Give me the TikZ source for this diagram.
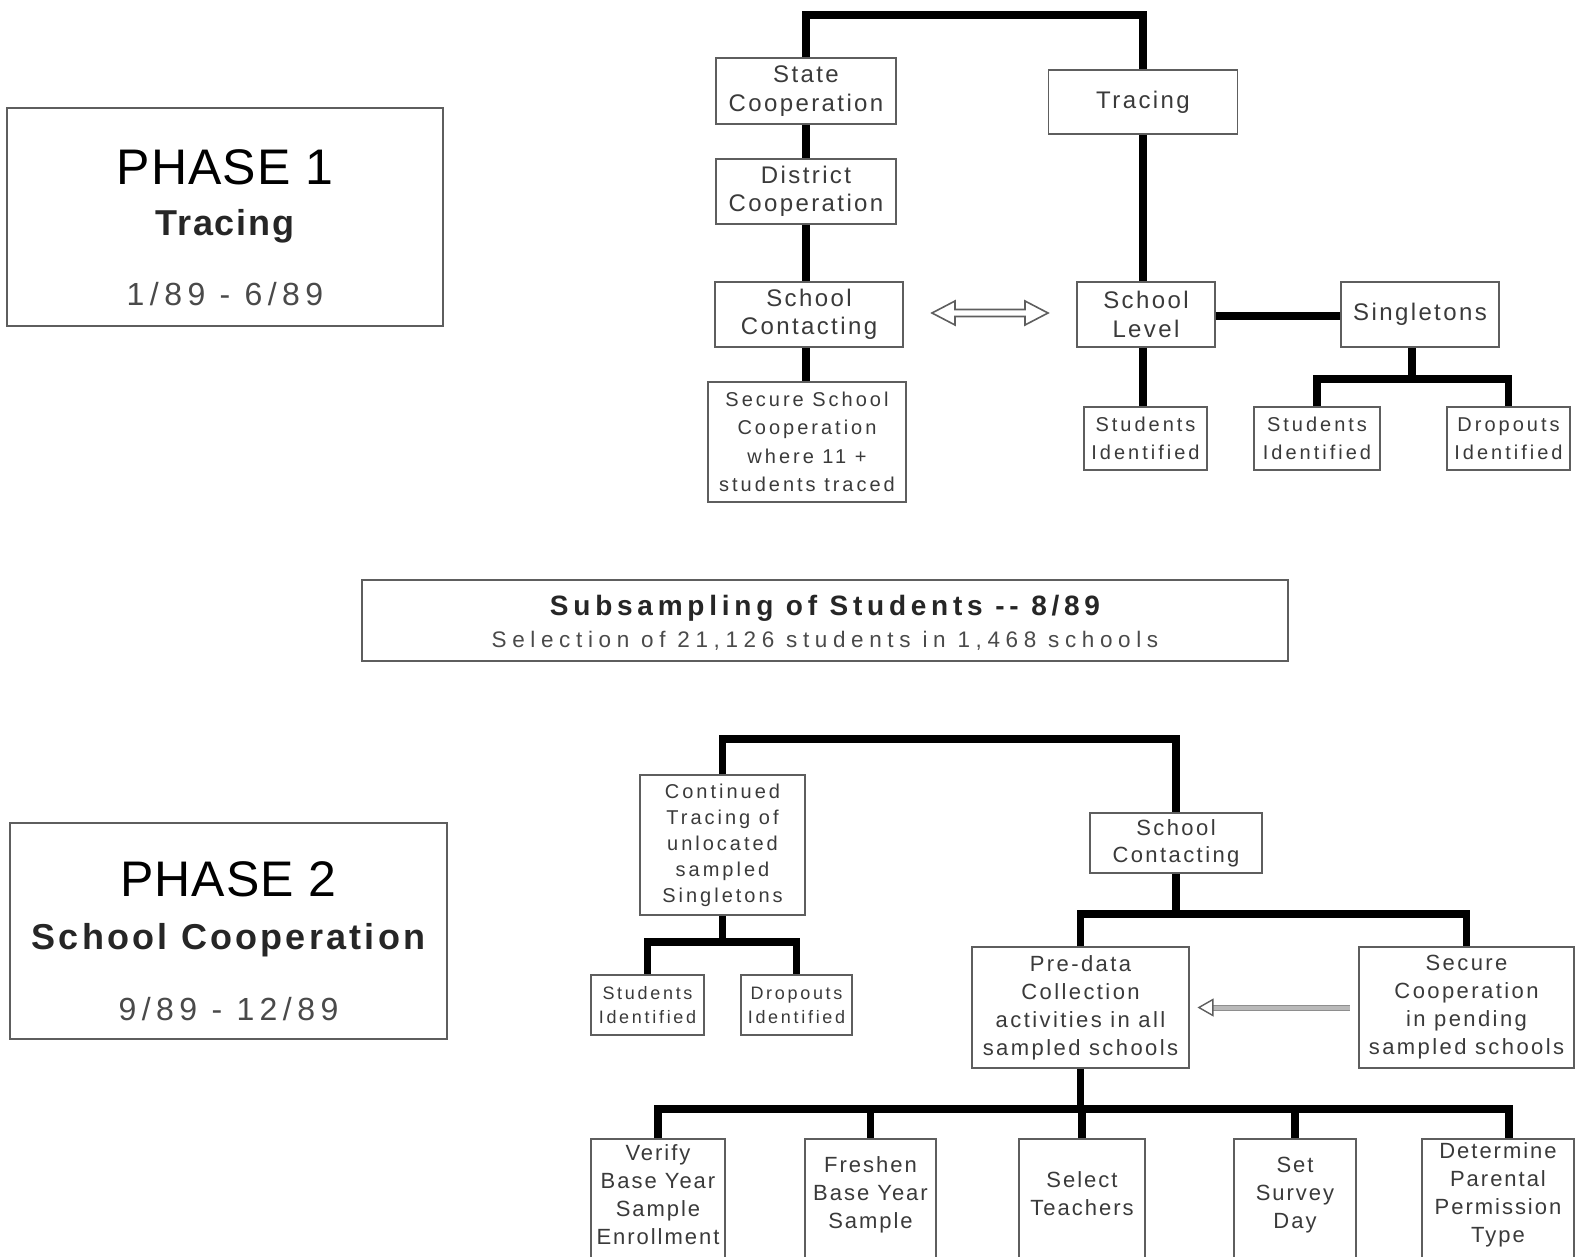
\documentclass[tikz,border=0pt]{standalone}
\usepackage{fontspec}
\setmainfont{Liberation Sans}
\newfontfamily\fA[LetterSpace=10]{Liberation Sans}
\newfontfamily\fB[LetterSpace=15]{Liberation Sans}
\newfontfamily\fC[LetterSpace=9]{Liberation Sans}
\newfontfamily\fD[LetterSpace=17]{Liberation Sans}
\newfontfamily\fE[LetterSpace=25]{Liberation Sans}
\newfontfamily\fF[LetterSpace=5]{Liberation Sans}
\newfontfamily\fG[LetterSpace=2]{Liberation Sans}
\newfontfamily\fH[LetterSpace=11]{Liberation Sans}
\newfontfamily\fI[LetterSpace=17]{Liberation Sans}
\usetikzlibrary{calc}
\definecolor{txt}{HTML}{3A3A3A}
\definecolor{edge}{HTML}{5E5E5E}
\definecolor{datec}{HTML}{4A4A4A}
\begin{document}
\begin{tikzpicture}[x=1pt,y=-1pt,
  box/.style={draw=edge, line width=1.8pt, fill=white, align=center, inner sep=0pt, text=txt},
  bA/.style={box, font=\fA\fontsize{24}{28.5}\selectfont},
  bS/.style={box, font=\fB\fontsize{20}{28.5}\selectfont},
  bT/.style={box, font=\fB\fontsize{18}{24}\selectfont},
  bC/.style={box, font=\fB\fontsize{20}{26}\selectfont},
  bM/.style={box, font=\fH\fontsize{22}{28}\selectfont},
  bB/.style={box},
  bBt/.style={align=center, inner sep=0pt, text=txt, font=\fC\fontsize{22}{28}\selectfont},
  phasebox/.style={draw=edge, line width=2.2pt, fill=white, inner sep=0pt},
  conn/.style={line width=7.5pt, black},
  hollow/.style={draw=edge, line width=1.6pt, fill=white, line join=miter},
]
\clip (0,0) rectangle (1585,1257);
\fill[white] (0,0) rectangle (1585,1257);

% ---------- Phase 1 ----------
\node[phasebox, minimum width=436, minimum height=218] (ph1) at (225,217) {};
\node[font=\fG\fontsize{50}{50}\selectfont, text=black] (ph1a) at (225,167) {PHASE 1};
\node[font=\fF\bfseries\fontsize{36}{36}\selectfont, text=black!85] (ph1b) at (225,226) {Tracing};
\node[font=\fI\fontsize{32}{32}\selectfont, text=datec] (ph1c) at (225,294) {1/89 - 6/89};

\node[bA, minimum width=180, minimum height=66] (state) at (806,91) {State\\Cooperation};
\node[bA, minimum width=189, minimum height=64] (trace) at (1143,102) {Tracing};
\node[bA, minimum width=180, minimum height=65] (dist) at (806,191.5) {District\\Cooperation};
\node[bA, minimum width=188, minimum height=65] (scon) at (809,314.5) {School\\Contacting};
\node[bS, minimum width=198, minimum height=120] (secure) at (807,442) {Secure School\\Cooperation\\where 11 +\\students traced};
\node[bA, minimum width=138, minimum height=65] (slevel) at (1146,314.5) {School\\Level};
\node[bA, minimum width=158, minimum height=65] (single) at (1420,314.5) {Singletons};
\node[bS, font=\fB\fontsize{20}{28}\selectfont, minimum width=123, minimum height=63] (stid1) at (1145.5,438.5) {Students\\Identified};
\node[bS, font=\fB\fontsize{20}{28}\selectfont, minimum width=126, minimum height=63] (stid2) at (1317,438.5) {Students\\Identified};
\node[bS, font=\fB\fontsize{20}{28}\selectfont, minimum width=123, minimum height=63] (drid1) at (1508.5,438.5) {Dropouts\\Identified};

\coordinate (t1) at (806,15);
\draw[conn] (state.north) -- (state.north |- t1) -| (trace.north);
\draw[conn] (state.south) -- (dist.north);
\draw[conn] (dist.south) -- (dist.south |- scon.north);
\draw[conn] (scon.south -| dist.south) -- (secure.north -| dist.south);
\draw[conn] (trace.south) -- (trace.south |- slevel.north);
\draw[conn] (slevel.south -| trace.south) -- (stid1.north -| trace.south);
\draw[conn] (slevel.east |- 0,316) -- (single.west |- 0,316);
\coordinate (sj) at (1412,379);
\draw[conn] (single.south -| sj) -- (sj);
\draw[conn] (stid2.north) -- (stid2.north |- sj) -- (drid1.north |- sj) -- (drid1.north);

% double arrow between School Contacting and School Level
\coordinate (da1) at (932,313);
\coordinate (da2) at (1048,313);
\draw[hollow] (da1) -- ($(da1)+(23,-12)$) -- ($(da1)+(23,-3.5)$) -- ($(da2)+(-23,-3.5)$) -- ($(da2)+(-23,-12)$)
  -- (da2) -- ($(da2)+(-23,12)$) -- ($(da2)+(-23,3.5)$) -- ($(da1)+(23,3.5)$) -- ($(da1)+(23,12)$) -- cycle;

% ---------- Subsampling ----------
\node[draw=edge, line width=1.8pt, minimum width=926, minimum height=81, inner sep=0pt] (sub) at (825,620.5) {};
\node[font=\fD\bfseries\fontsize{28}{28}\selectfont, text=black!85] (suba) at (825,608) {Subsampling of Students -- 8/89};
\node[font=\fE\fontsize{22.5}{22}\selectfont, text=datec] (subb) at (825,641) {Selection of 21,126 students in 1,468 schools};

% ---------- Phase 2 ----------
\node[phasebox, minimum width=437, minimum height=216] (ph2) at (228.5,931) {};
\node[font=\fG\fontsize{50}{50}\selectfont, text=black] (ph2a) at (228.5,879) {PHASE 2};
\node[font=\fC\bfseries\fontsize{36}{36}\selectfont, text=black!85] (ph2b) at (228.5,940) {School Cooperation};
\node[font=\fI\fontsize{32}{32}\selectfont, text=datec] (ph2c) at (228.5,1009) {9/89 - 12/89};

\node[bC, minimum width=165, minimum height=140] (cont) at (722.5,845) {Continued\\Tracing of\\unlocated\\sampled\\Singletons};
\node[bM, font=\fH\fontsize{22}{27}\selectfont, minimum width=172, minimum height=60] (scon2) at (1176,843) {School\\Contacting};
\node[bT, minimum width=113, minimum height=60] (stid3) at (647.5,1005) {Students\\Identified};
\node[bT, minimum width=111, minimum height=60] (drid2) at (796.5,1005) {Dropouts\\Identified};
\node[bM, minimum width=217, minimum height=121] (pre) at (1080.5,1007.5) {Pre-data\\Collection\\activities in all\\sampled schools};
\node[bM, minimum width=215, minimum height=121] (sec2) at (1466.5,1007.5) {Secure\\Cooperation\\in pending\\sampled schools};

\node[bB, minimum width=134, minimum height=126] (ver) at (658,1202) {};
\node[bB, minimum width=131, minimum height=126] (fre) at (870.5,1202) {};
\node[bB, minimum width=126, minimum height=126] (sel) at (1082,1202) {};
\node[bB, minimum width=122, minimum height=126] (sday) at (1295,1202) {};
\node[bB, minimum width=152, minimum height=126] (det) at (1498,1202) {};
\node[bBt] (verT) at ($(ver.center)+(0,-7)$) {Verify\\Base Year\\Sample\\Enrollment};
\node[bBt] (freT) at ($(fre.center)+(0,-7)$) {Freshen\\Base Year\\Sample};
\node[bBt] (selT) at ($(sel.center)+(0,-8)$) {Select\\Teachers};
\node[bBt] (sdayT) at ($(sday.center)+(0,-7)$) {Set\\Survey\\Day};
\node[bBt] (detT) at ($(det.center)+(0,-7)$) {Determine\\Parental\\Permission\\Type};

\coordinate (t2) at (724,739);
\draw[conn] (cont.north) -- (cont.north |- t2) -| (scon2.north);
\coordinate (cj) at (722.5,942);
\draw[conn] (cont.south) -- (cj);
\draw[conn] (stid3.north) -- (stid3.north |- cj) -- (drid2.north |- cj) -- (drid2.north);
\coordinate (sj2) at (1176,914);
\draw[conn] (scon2.south) -- (sj2);
\draw[conn] (pre.north) -- (pre.north |- sj2) -- (sec2.north |- sj2) -- (sec2.north);
\coordinate (pj) at (1080.5,1109);
\coordinate (j5) at (1509,1109);
\draw[conn] (pre.south) -- (pj);
\draw[conn] (ver.north) -- (ver.north |- pj) -- (j5) -- (j5 |- det.north);
\draw[conn] (fre.north |- pj) -- (fre.north);
\draw[conn] (sel.north |- pj) -- (sel.north);
\draw[conn] (sday.north |- pj) -- (sday.north);

% arrow from Secure Cooperation to Pre-data
\coordinate (ar1) at ($(sec2.west)+(-8,0)$);
\coordinate (ar2) at ($(pre.east)+(9,0)$);
\fill[gray!55] ($(ar2)+(13,-2.5)$) rectangle ($(ar1)+(0,2.5)$);
\draw[edge!70, line width=0.8pt] ($(ar2)+(13,-2.5)$) -- ($(ar1)+(0,-2.5)$);
\draw[edge!70, line width=0.8pt] ($(ar2)+(13,2.5)$) -- ($(ar1)+(0,2.5)$);
\draw[hollow, line width=1.4pt] (ar2) -- ($(ar2)+(14,-8)$) -- ($(ar2)+(14,8)$) -- cycle;
\end{tikzpicture}
\end{document}
